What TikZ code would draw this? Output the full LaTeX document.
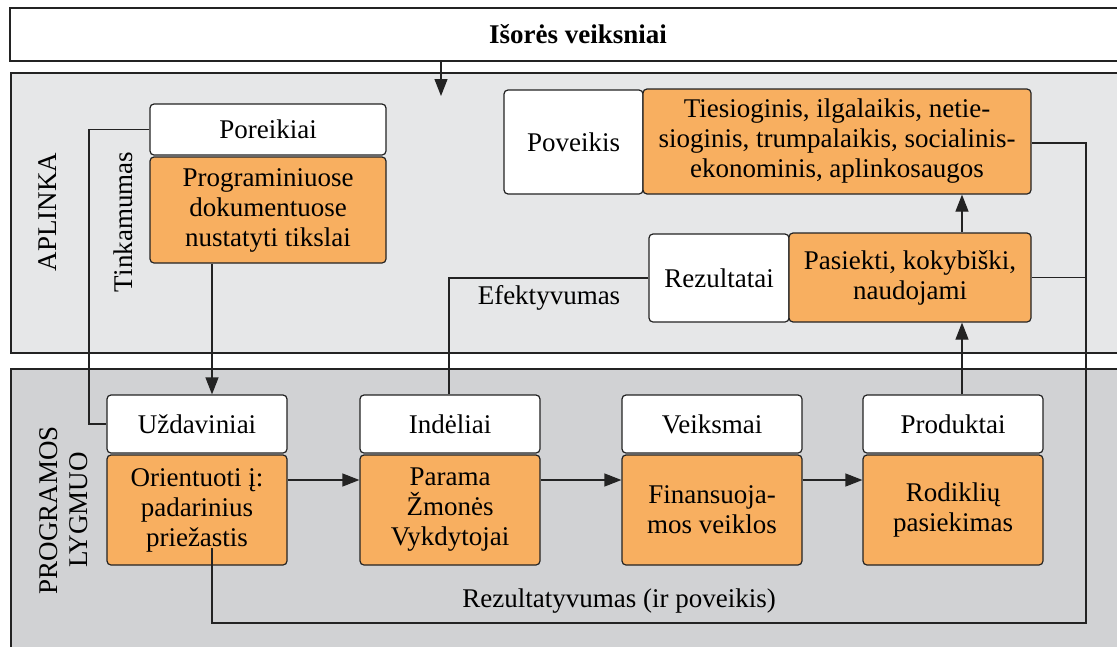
\documentclass[tikz,border=0pt]{standalone}
\usepackage{fontspec}
\setmainfont{Liberation Serif}
\usetikzlibrary{arrows.meta}
\definecolor{envgray}{HTML}{E6E7E8}
\definecolor{proggray}{HTML}{D1D2D4}
\definecolor{boxorange}{HTML}{F8AF60}
\definecolor{edge}{HTML}{232323}
\begin{document}
\begin{tikzpicture}[x=1pt,y=-1pt,
  every node/.style={font=\fontsize{27}{30}\selectfont, align=center, inner sep=0pt},
  panel/.style={draw=edge, line width=1.2pt},
  whitebox/.style={draw=edge, fill=white, line width=1.2pt, rounded corners=4pt},
  orangebox/.style={draw=edge, fill=boxorange, line width=1.2pt, rounded corners=4pt},
  conn/.style={draw=edge, line width=1.2pt},
  arr/.style={conn, -{Triangle[length=17pt,width=13pt]}},
  sidelabel/.style={rotate=90}
]
\useasboundingbox (0,0) rectangle (1117,646);
\begin{scope}
\clip (0,0) rectangle (1117,646);

% background panels
\fill[white] (0,0) rectangle (1117,646);
\draw[panel, fill=envgray] (11,73) rectangle (1150,353);
\draw[panel, fill=proggray] (11,369) rectangle (1150,700);

% external factors bar
\node[draw=edge, line width=1.2pt, fill=white, minimum width=1136pt, minimum height=53pt,
      font=\fontsize{27}{30}\selectfont\bfseries] (ext) at (578,34.5) {Išorės veiksniai};

% side labels
\node[sidelabel] (aplinka) at (48,212) {APLINKA};
\node[sidelabel] (proglvl) at (64,510) {PROGRAMOS\\LYGMUO};
\node[sidelabel] (tink) at (123,222) {Tinkamumas};

% needs and objectives
\node[whitebox, minimum width=236pt, minimum height=51pt] (por) at (268,129.5) {Poreikiai};
\node[orangebox, minimum width=236pt, minimum height=106pt] (prog) at (268,210) {Programiniuose\\dokumentuose\\nustatyti tikslai};

% impact and results
\node[whitebox, minimum width=139pt, minimum height=104pt] (pov) at (573.5,142) {Poveikis};
\node[orangebox, minimum width=388pt, minimum height=105pt] (ties) at (837,141.5) {Tiesioginis, ilgalaikis, netie-\\sioginis, trumpalaikis, socialinis-\\ekonominis, aplinkosaugos};
\node[whitebox, minimum width=140pt, minimum height=88pt] (rez) at (719,278) {Rezultatai};
\node[orangebox, minimum width=242pt, minimum height=89pt] (pas) at (910,277.5) {Pasiekti, kokybiški,\\naudojami};

% programme chain
\node[whitebox, minimum width=180pt, minimum height=58pt] (uzd) at (197,424) {Uždaviniai};
\node[orangebox, minimum width=180pt, minimum height=110pt] (ori) at (197,510) {Orientuoti į:\\padarinius\\priežastis};
\node[whitebox, minimum width=180pt, minimum height=58pt] (ind) at (450,424) {Indėliai};
\node[orangebox, minimum width=180pt, minimum height=110pt] (par) at (450,510) {Parama\\Žmonės\\Vykdytojai};
\node[whitebox, minimum width=180pt, minimum height=58pt] (vei) at (712,424) {Veiksmai};
\node[orangebox, minimum width=180pt, minimum height=110pt] (fin) at (712,510) {Finansuoja-\\mos veiklos};
\node[whitebox, minimum width=180pt, minimum height=58pt] (pro) at (953,424) {Produktai};
\node[orangebox, minimum width=180pt, minimum height=110pt] (rod) at (953,510) {Rodiklių\\pasiekimas};

% connector labels
\node (efek) at (549,298) {Efektyvumas};
\node (rezt) at (619,601) {Rezultatyvumas (ir poveikis)};

% helper coordinates
\coordinate (envtip) at (441,96);
\coordinate (xgoal) at (212,0);
\coordinate (xres) at (962,0);
\coordinate (xright) at (1086,0);
\coordinate (xin) at (449,0);
\coordinate (xleft) at (89,0);
\coordinate (ychain) at (0,480);
\coordinate (yimp) at (0,143);
\coordinate (ybottom) at (0,623);
\coordinate (orin) at (212,548);

% connectors
\draw[arr] (ext.south -| envtip) -- (envtip);
\draw[conn] (por.west) -- (por.west -| xleft) |- (uzd.west);
\draw[arr] (prog.south -| xgoal) -- (uzd.north -| xgoal);
\draw[arr] (ori.east |- ychain) -- (par.west |- ychain);
\draw[arr] (par.east |- ychain) -- (fin.west |- ychain);
\draw[arr] (fin.east |- ychain) -- (rod.west |- ychain);
\draw[arr] (pro.north -| xres) -- (pas.south -| xres);
\draw[arr] (pas.north -| xres) -- (ties.south -| xres);
\draw[conn] (rez.west) -- (rez.west -| xin) -- (ind.north -| xin);
\draw[conn] (ties.east |- yimp) -- (xright |- yimp) -- (xright |- ybottom) -- (orin |- ybottom) -- (orin);
\draw[conn] (pas.east) -- (pas.east -| xright);
\end{scope}
\end{tikzpicture}
\end{document}
